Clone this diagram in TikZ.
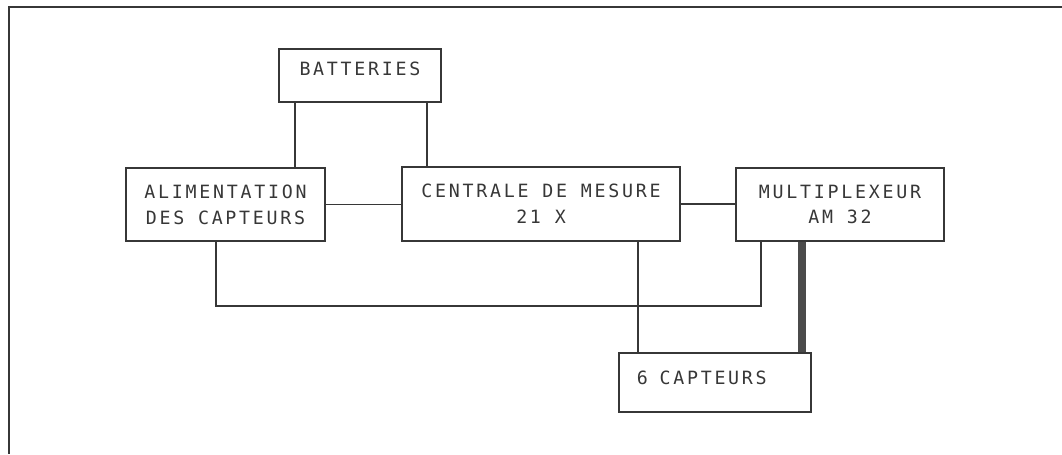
\documentclass[tikz,border=0pt]{standalone}
\usepackage{fontspec}
\newfontfamily\plotfont[LetterSpace=15]{DejaVu Sans Mono}
\usetikzlibrary{calc}
\definecolor{inkgrey}{RGB}{55,55,55}
\begin{document}
\begin{tikzpicture}[x=0.025cm,y=-0.025cm,
  every node/.style={font=\plotfont\fontsize{13}{18.4}\selectfont,text=inkgrey},
  box/.style={draw=inkgrey,line width=1.3pt,align=center,inner sep=0pt},
  wire/.style={draw=inkgrey,line width=1.1pt},
  bus/.style={draw=inkgrey!90,line width=5.6pt}]
\useasboundingbox (0,0) rectangle (1062,454);
\draw[line width=1.6pt,inkgrey] (1062,7) -- (9,7) -- (9,454);
\node[box,minimum width=4.05cm,minimum height=1.325cm,text height=9.5pt,text depth=8.8pt] (batt) at (360,75.5) {BATTERIES};
\node[box,minimum width=4.975cm,minimum height=1.825cm] (alim) at (225.5,204.5) {ALIMENTATION\\DES CAPTEURS};
\node[box,minimum width=6.95cm,minimum height=1.85cm] (cent) at (541,204) {CENTRALE DE MESURE\\21 X};
\node[box,minimum width=5.2cm,minimum height=1.825cm] (mux) at (840,204.5) {MULTIPLEXEUR\\AM 32};
\node[box,minimum height=1.475cm,text width=3.9cm,inner xsep=0.45cm,align=left,text height=9.5pt,text depth=7.3pt] (capt) at (715,382.5) {6\hspace{8.2pt}CAPTEURS};
\coordinate (b1) at ($(batt.south west)+(17,0)$);
\coordinate (b2) at ($(batt.south east)+(-15,0)$);
\coordinate (a1) at ($(alim.south)+(-9.5,0)$);
\coordinate (c1) at ($(cent.south west)+(237,0)$);
\coordinate (m1) at ($(mux.south west)+(26,0)$);
\coordinate (m2) at ($(mux.south west)+(67,0)$);
\coordinate (loop) at (0,306);
\draw[wire] (b1) -- (b1 |- alim.north);
\draw[wire] (b2) -- (b2 |- cent.north);
\draw[wire] (alim.east) -- (alim.east -| cent.west);
\draw[wire] (cent.east) -- (cent.east -| mux.west);
\draw[wire] (a1) |- (loop -| m1) -- (m1);
\draw[wire] (c1) -- (c1 |- capt.north);
\draw[bus] (m2) -- (m2 |- capt.north);
\end{tikzpicture}
\end{document}
